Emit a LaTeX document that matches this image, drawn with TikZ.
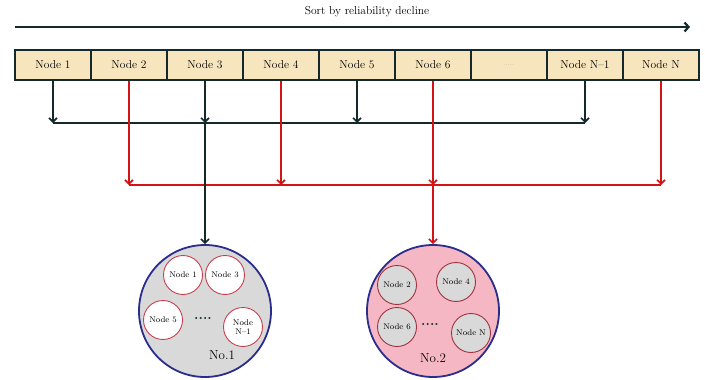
\documentclass[tikz,border=0pt]{standalone}
\usepackage{tikz}
\usepackage{xcolor}
\usetikzlibrary{arrows.meta}
\definecolor{darkline}{HTML}{13292B}
\definecolor{boxfill}{HTML}{F7E5BD}
\definecolor{redline}{HTML}{D41414}
\definecolor{ringblue}{HTML}{2A2D8C}
\definecolor{pinkfill}{HTML}{F5B7C4}
\definecolor{grayfill}{HTML}{D9D9D9}
\definecolor{ringred}{HTML}{C8404F}
\newcommand{\fillerdots}{{\color{darkline!60}\tiny .....}}

\begin{document}
\begin{tikzpicture}[x=1pt,y=-1pt,
    cell/.style={draw=darkline,line width=2pt,fill=boxfill,minimum width=76pt,minimum height=30pt,inner sep=0pt,font=\fontsize{11.5}{13}\selectfont},
    group/.style={circle,draw=ringblue,line width=1.8pt,minimum size=132pt,inner sep=0pt},
    member/.style={circle,draw=ringred,line width=0.9pt,minimum size=39pt,inner sep=0pt,align=center,font=\fontsize{8.3}{9}\selectfont},
    blkarrow/.style={-{Straight Barb[length=4pt,width=8pt]},darkline,line width=1.6pt},
    redarrow/.style={-{Straight Barb[length=4pt,width=8pt]},redline,line width=1.6pt}]
    \useasboundingbox (0,0) rectangle (705,380);

    % sorting direction
    \node[font=\fontsize{11.5}{13}\selectfont] (title) at (367,12) {Sort by reliability decline};
    \coordinate (sortL) at (15,27);
    \coordinate (sortR) at (690,27);
    \draw[-{Straight Barb[length=4pt,width=9pt]},darkline,line width=2.2pt] (sortL) -- (sortR);

    % row of nodes
    \foreach \lbl [count=\i] in {Node 1,Node 2,Node 3,Node 4,Node 5,Node 6,\fillerdots,Node N--1,Node N}
        \node[cell] (n\i) at ({15+76*(\i-0.5)},65) {\lbl};

    % the two buses
    \coordinate (busblk) at (0,123);
    \coordinate (busred) at (0,185);

    % groups
    \node[group,fill=grayfill] (g1) at (205,311) {};
    \node[group,fill=pinkfill] (g2) at (433,311) {};

    % black bus
    \foreach \k in {1,3,5,8}
        \draw[blkarrow] (n\k.south) -- (n\k.south |- busblk);
    \draw[darkline,line width=1.6pt] (n1.south |- busblk) -- (n8.south |- busblk);

    % red bus
    \foreach \k in {2,4,6,9}
        \draw[redarrow] (n\k.south) -- (n\k.south |- busred);
    \draw[redline,line width=1.6pt] (n2.south |- busred) -- (n9.south |- busred);

    % down to the groups
    \draw[blkarrow] (n3.south |- busblk) -- (g1.north);
    \draw[redarrow] (n6.south |- busred) -- (g2.north);

    % members of No.1
    \node[member,fill=white] (a1) at (183,275) {Node 1};
    \node[member,fill=white] (a3) at (225,275) {Node 3};
    \node[member,fill=white] (a5) at (163,320) {Node 5};
    \node[member,fill=white] (a8) at (243,327) {Node\\N--1};
    \node[font=\fontsize{14}{16}\bfseries\selectfont,text=darkline] (dots1) at (203,318) {....};
    \node[font=\fontsize{13}{15}\selectfont] (no1) at (222,355) {No.1};

    % members of No.2
    \node[member,fill=grayfill,draw=ringred!80!black] (b2) at (397,285) {Node 2};
    \node[member,fill=grayfill,draw=ringred!80!black] (b4) at (456,282) {Node 4};
    \node[member,fill=grayfill,draw=ringred!80!black] (b6) at (397,327) {Node 6};
    \node[member,fill=grayfill,draw=ringred!80!black] (b9) at (471,333) {Node N};
    \node[font=\fontsize{14}{16}\bfseries\selectfont,text=darkline] (dots2) at (430,324) {....};
    \node[font=\fontsize{13}{15}\selectfont] (no2) at (433,358) {No.2};
\end{tikzpicture}
\end{document}
